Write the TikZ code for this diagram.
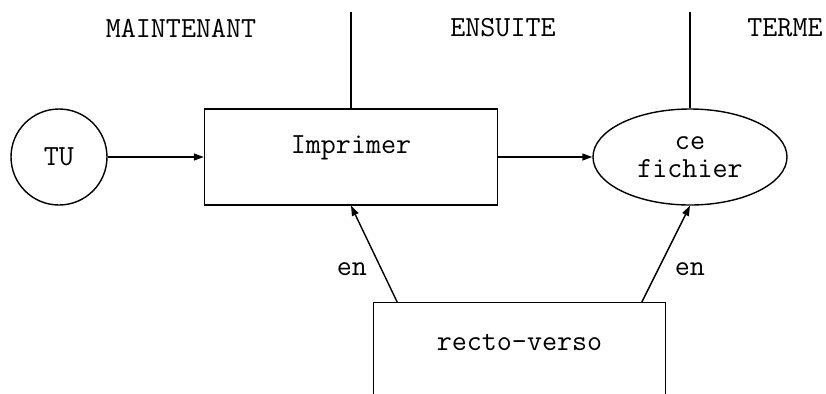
\documentclass[tikz,border=0pt]{standalone}
\usetikzlibrary{arrows.meta,positioning,calc,shapes.geometric}

\begin{document}
\begin{tikzpicture}[
      x=0.5pt, y=-0.5pt,
      line width=0.7pt,
      every node/.style={font=\ttfamily\fontsize{14.6pt}{14pt}\selectfont,align=center,inner sep=0pt},
      box/.style={draw,minimum width=146.5pt,minimum height=48pt},
      >={Triangle[length=5pt,width=3.5pt]}
    ]
      \useasboundingbox (0,0) rectangle (826,393);
      % time headings and separators
      \node (now) at (181,28) {MAINTENANT};
      \node (next) at (503,28) {ENSUITE};
      \node (term) at (785,28) {TERME};
      \coordinate (sepA) at (351,12);
      \coordinate (sepB) at (690,12);
      % main nodes
      \node (tu) [draw,circle,minimum size=48pt] at (59,157) {TU};
      \node (imprimer) [box,label={[yshift=4.5pt]center:Imprimer}] at (351,157) {};
      \node (fichier) [draw,ellipse,minimum width=97pt,minimum height=48pt] at (690,157) {ce\\fichier};
      \node (recto) [minimum width=145.5pt,minimum height=45pt,label={[yshift=3pt]center:recto-verso}] at (519.5,348) {};
      \draw (recto.south west)--(recto.north west)--(recto.north east)--(recto.south east);
      \draw (sepA)--(imprimer.north);
      \draw (sepB)--(fichier.north);
      \draw[->] (tu)--(imprimer);
      \draw[->] (imprimer)--(fichier);
      \draw[->] ([xshift=12pt]recto.north west)--node[pos=0.34,left=7pt]{en}(imprimer.south);
      \draw[->] ([xshift=-12pt]recto.north east)--node[pos=0.34,right=8pt]{en}(fichier.south);
    \end{tikzpicture}
\end{document}
